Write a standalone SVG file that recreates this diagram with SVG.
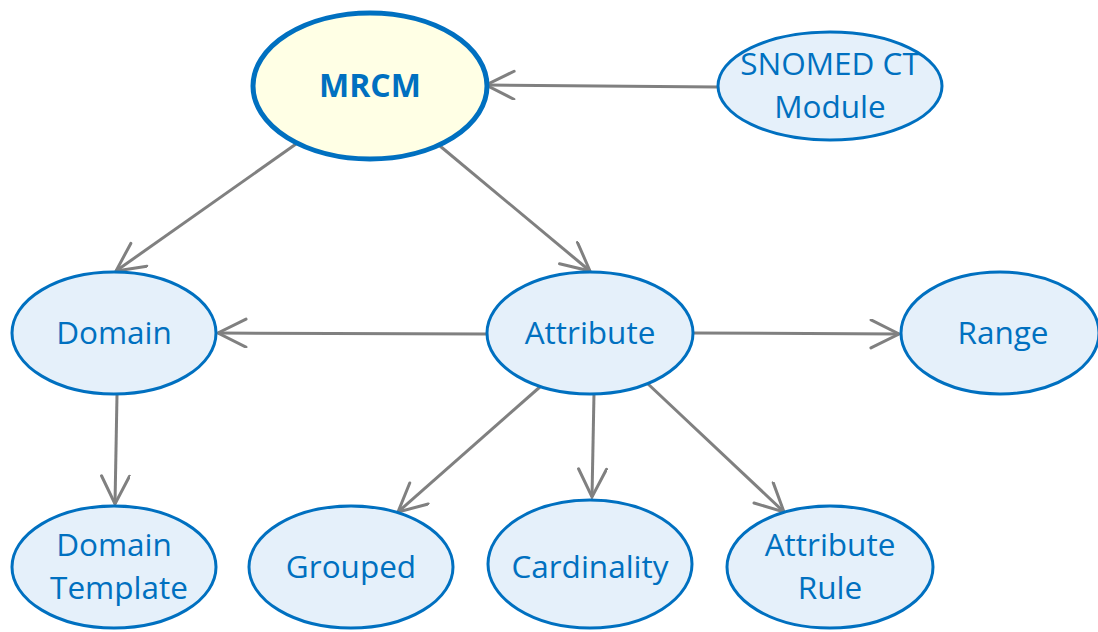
<svg xmlns="http://www.w3.org/2000/svg" width="1098" height="632" viewBox="0 0 1098 632">
<style>
.n{fill:#E5F0FA;stroke:#0070C0;stroke-width:3}
.m{fill:#FFFFE5;stroke:#0070C0;stroke-width:5}
.t{font-family:"Open Sans","Noto Sans",sans-serif;font-size:31.5px;fill:#0070C0;text-anchor:middle}
.b{font-weight:bold;font-size:32px}
.c{stroke:#808080;stroke-width:3;fill:none;marker-end:url(#a)}
</style>
<defs>
<marker id="a" markerUnits="userSpaceOnUse" markerWidth="40" markerHeight="40" refX="30" refY="15" orient="auto" viewBox="0 0 40 40">
<path d="M2,1 L30,15 L2,29" fill="none" stroke="#808080" stroke-width="3" stroke-linecap="round" stroke-linejoin="miter"/>
</marker>
</defs>
<rect width="1098" height="632" fill="#FFFFFF"/>
<g id="connectors">
<line class="c" x1="296" y1="144" x2="116" y2="271"/>
<line class="c" x1="440" y1="146" x2="590" y2="271"/>
<line class="c" x1="718" y1="87" x2="486" y2="85"/>
<line class="c" x1="487" y1="334" x2="218" y2="333"/>
<line class="c" x1="692" y1="333" x2="899" y2="334"/>
<line class="c" x1="117" y1="395" x2="115" y2="504"/>
<line class="c" x1="541" y1="386" x2="398" y2="512"/>
<line class="c" x1="594" y1="393" x2="592" y2="497"/>
<line class="c" x1="647" y1="383" x2="784" y2="512"/>
</g>
<g id="mrcm">
<ellipse class="m" cx="370" cy="86" rx="117" ry="73"/>
<text class="t b" x="370" y="97">MRCM</text>
</g>
<g id="snomed">
<ellipse class="n" cx="830" cy="86" rx="112" ry="54"/>
<text class="t" x="830" y="75">SNOMED CT</text>
<text class="t" x="830" y="118">Module</text>
</g>
<g id="domain">
<ellipse class="n" cx="114" cy="333" rx="102" ry="61"/>
<text class="t" x="114" y="344">Domain</text>
</g>
<g id="attribute">
<ellipse class="n" cx="590" cy="333" rx="103" ry="61"/>
<text class="t" x="590" y="344">Attribute</text>
</g>
<g id="range">
<ellipse class="n" cx="1000" cy="333" rx="99" ry="61"/>
<text class="t" x="1003" y="344">Range</text>
</g>
<g id="domain-template">
<ellipse class="n" cx="114" cy="567" rx="102" ry="61"/>
<text class="t" x="114" y="556">Domain</text>
<text class="t" x="119" y="599">Template</text>
</g>
<g id="grouped">
<ellipse class="n" cx="351" cy="567" rx="102" ry="61"/>
<text class="t" x="351" y="578">Grouped</text>
</g>
<g id="cardinality">
<ellipse class="n" cx="590" cy="564" rx="102" ry="64"/>
<text class="t" x="590" y="578">Cardinality</text>
</g>
<g id="attribute-rule">
<ellipse class="n" cx="830" cy="567" rx="103" ry="61"/>
<text class="t" x="830" y="556">Attribute</text>
<text class="t" x="830" y="599">Rule</text>
</g>
</svg>
